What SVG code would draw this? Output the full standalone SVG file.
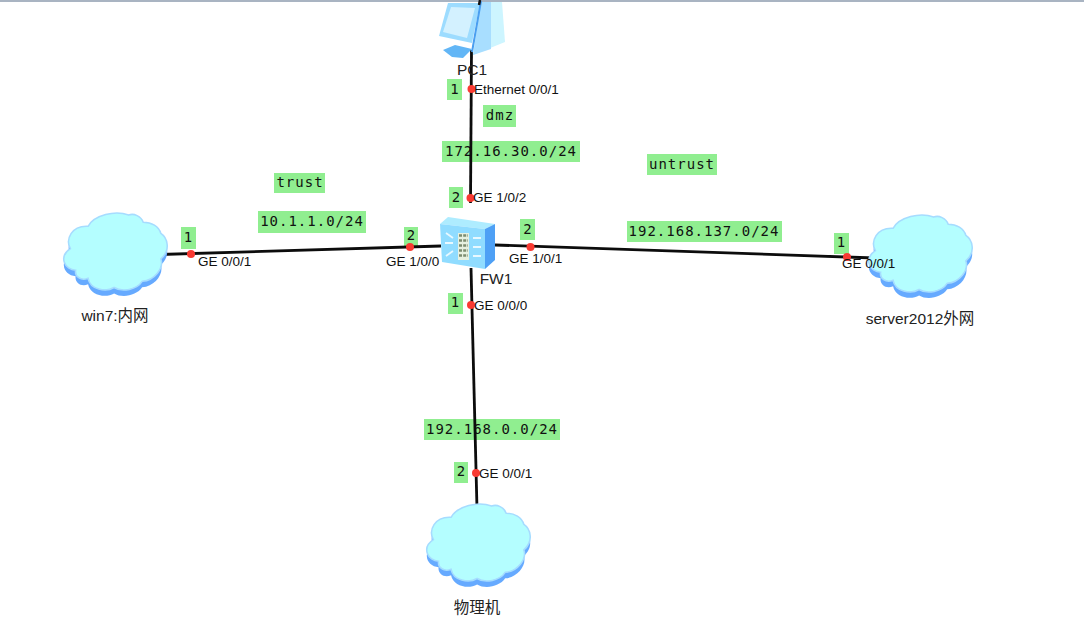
<svg xmlns="http://www.w3.org/2000/svg" width="1084" height="644" viewBox="0 0 1084 644">
<style>
.lb{fill:#90ee90}
.mono{font-family:"DejaVu Sans Mono","Liberation Mono",monospace;font-size:14px;letter-spacing:1px;fill:#111;text-anchor:middle}
.num{font-family:"DejaVu Sans Mono","Liberation Mono",monospace;font-size:14px;fill:#111;text-anchor:middle}
.port{font-family:"Liberation Sans",Arial,sans-serif;font-size:13.500px;fill:#111}
.name{font-family:"Liberation Sans","Noto Sans CJK SC",sans-serif;font-size:15.500px;fill:#222;text-anchor:middle}
.link{stroke:#0c0c0c;stroke-width:2.800;fill:none}
.dot{fill:#f93a32}
</style>
<defs>
<path id="c" transform="scale(1.040 1.020)" d="M10 36C5 27 11 13 27 14 33 3 53-2 66 3 71 1 78 4 80 10 88 10 95 14 97 21 103 25 107 37 97 46 100 55 91 67 79 68 74 76 60 79 52 74 44 79 29 76 27 65 20 68 14 63 15 57 5 57-2 44 10 36Z"/>
<g id="cloud"><use href="#c" y="6" fill="#66aaff"/><use href="#c" fill="#b4feff" stroke="#a6dcff" stroke-width="1.500"/></g>
</defs>
<rect x="0" y="0" width="1084" height="2" fill="#a9b4c2"/>

<g id="labels">
<rect class="lb" x="447" y="79" width="15" height="21"/><text class="num" x="454.500" y="94">1</text>
<rect class="lb" x="483" y="105" width="33" height="22"/><text class="mono" x="500" y="120">dmz</text>
<rect class="lb" x="442" y="141" width="138" height="21"/><text class="mono" x="511" y="156">172.16.30.0/24</text>
<rect class="lb" x="647" y="154" width="70" height="21"/><text class="mono" x="682" y="169">untrust</text>
<rect class="lb" x="274" y="173" width="51" height="20"/><text class="mono" x="300" y="187">trust</text>
<rect class="lb" x="449" y="187" width="14" height="21"/><text class="num" x="456" y="202">2</text>
<rect class="lb" x="258" y="211" width="108" height="22"/><text class="mono" x="312" y="226">10.1.1.0/24</text>
<rect class="lb" x="627" y="221" width="155" height="21"/><text class="mono" x="704" y="236">192.168.137.0/24</text>
<rect class="lb" x="520" y="219" width="15" height="21"/><text class="num" x="527.500" y="234">2</text>
<rect class="lb" x="404" y="227" width="14" height="19"/><text class="num" x="411" y="240">2</text>
<rect class="lb" x="181" y="227" width="15" height="22"/><text class="num" x="188" y="242">1</text>
<rect class="lb" x="834" y="233" width="15" height="21"/><text class="num" x="841" y="247">1</text>
<rect class="lb" x="448" y="293" width="15" height="21"/><text class="num" x="455" y="307">1</text>
<rect class="lb" x="424" y="419" width="136" height="21"/><text class="mono" x="492" y="434">192.168.0.0/24</text>
<rect class="lb" x="454" y="462" width="14" height="21"/><text class="num" x="461" y="476">2</text>
</g>

<g id="connectors">
<path class="link" d="M160 254.500L441 246"/>
<path class="link" d="M495 245L875 258"/>
<path class="link" d="M471.500 50L470.500 203"/>
<path class="link" d="M471 268L477 509"/>
</g>

<g id="win7">
<use href="#cloud" x="60" y="212"/>
<text class="name" x="115" y="321">win7:<tspan font-family="'Noto Sans CJK SC',sans-serif">内网</tspan></text>
</g>
<g id="server2012">
<use href="#cloud" x="865" y="214"/>
<text class="name" x="920" y="324">server2012<tspan font-family="'Noto Sans CJK SC',sans-serif">外网</tspan></text>
</g>
<g id="physical">
<use href="#cloud" x="423" y="503"/>
<text class="name" x="477" y="613" font-family="'Noto Sans CJK SC',sans-serif">物理机</text>
</g>

<g id="PC1">
<path d="M481 2H502L505 42 473 55Z" fill="#cdf5ff"/>
<path d="M481 2H491L491 49 473 55Z" fill="#a8deff"/>
<path d="M448 3H480L472 43 439 36Z" fill="#9ddcff"/>
<path d="M451 7L475 8 467 38 443 32Z" fill="#d3f1ff"/>
<path d="M481 1L472 52" stroke="#4a9ff0" stroke-width="2"/>
<path d="M443 50L455 45 472 49 463 58 452 57Z" fill="#62b6f6"/>
<path d="M480 0L479 5" stroke="#111" stroke-width="2.500"/>
<text class="name" x="472" y="75">PC1</text>
</g>

<g id="FW1">
<path d="M440 224L448 217 495 224 485 229Z" fill="#aeecff"/>
<path d="M440 224L485 229 485 269 442 262Z" fill="#90dcff"/>
<path d="M485 229L495 224 495 260 485 269Z" fill="#4ea0f5"/>
<rect x="458" y="233" width="11" height="27" fill="#e6f0e0"/>
<path d="M459 235.500h9M459 240.500h9M459 245.500h9M459 250.500h9M459 255.500h9" stroke="#7c8c70" stroke-width="2.600" stroke-dasharray="3 1.200"/>
<path d="M446 233l7 5M445 243h8M446 256l7-5M473 238h8M473 247h8M473 256h8" stroke="#e8f8ff" stroke-width="1.800"/>
<text class="name" x="496" y="284">FW1</text>
</g>

<g id="ports">
<circle class="dot" cx="471.500" cy="89" r="4"/><text class="port" x="474" y="94">Ethernet 0/0/1</text>
<circle class="dot" cx="470.500" cy="198" r="4"/><text class="port" x="473" y="202">GE 1/0/2</text>
<circle class="dot" cx="410" cy="247" r="4"/><text class="port" x="386" y="266">GE 1/0/0</text>
<circle class="dot" cx="530.500" cy="247" r="4"/><text class="port" x="509" y="263">GE 1/0/1</text>
<circle class="dot" cx="191" cy="254" r="4"/><text class="port" x="198" y="266">GE 0/0/1</text>
<circle class="dot" cx="847" cy="257" r="4"/><text class="port" x="842" y="268">GE 0/0/1</text>
<circle class="dot" cx="471" cy="305" r="4"/><text class="port" x="474" y="310">GE 0/0/0</text>
<circle class="dot" cx="476" cy="473" r="4"/><text class="port" x="479" y="478">GE 0/0/1</text>
</g>
</svg>
